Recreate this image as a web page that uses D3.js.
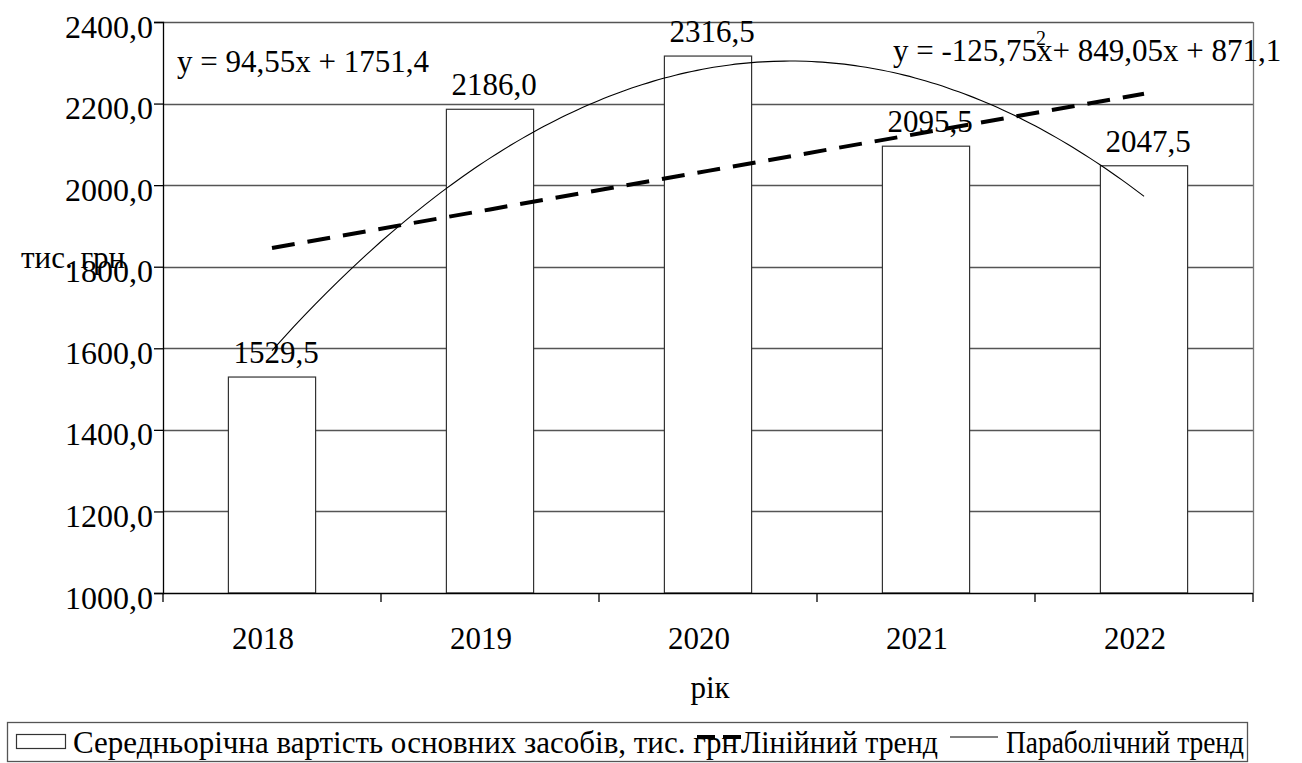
<!DOCTYPE html>
<html>
<head>
<meta charset="utf-8">
<script src="https://cdn.jsdelivr.net/npm/d3@7"></script>
<style>
  html, body { margin: 0; padding: 0; background: #fff; }
  svg { display: block; }
</style>
</head>
<body>
<svg id="chart" width="1302" height="763"></svg>
<script>
// Average annual value of fixed assets, thousand UAH
const years = ["2018", "2019", "2020", "2021", "2022"];
const values = [1529.5, 2186.0, 2316.5, 2095.5, 2047.5];
const yTicks = [1000, 1200, 1400, 1600, 1800, 2000, 2200, 2400];

// Trend equations (x = period number 1..5)
const linearCoef = [94.55, 1751.4];            // y = a*x + b
const parabolicCoef = [-125.75, 849.05, 871.1]; // y = a*x^2 + b*x + c
const linearLabel = "y = 94,55x + 1751,4";
const parabolicLabel = ["y = -125,75", "x+ 849,05x + 871,1"];

const yAxisTitle = "тис. грн";
const xAxisTitle = "рік";
const legendLabels = ["Середньорічна вартість основних засобів, тис. грн", "Лінійний тренд", "Параболічний тренд"];

const SERIF = "Liberation Serif, DejaVu Serif, serif";

const locale = d3.formatLocale({ decimal: ",", thousands: "", grouping: [3], currency: ["", ""] });
const fmt = locale.format(".1f");

const svg = d3.select("#chart").style("font-family", SERIF);
const plot = { left: 163, right: 1253, top: 22, bottom: 593 };

const x = d3.scaleBand().domain(years).range([plot.left, plot.right]).padding(0);
const y = d3.scaleLinear().domain([1000, 2400]).range([plot.bottom, plot.top]);
const barW = x.bandwidth() * 0.4;
const xc = i => x(years[i]) + x.bandwidth() / 2;

// Horizontal gridlines
svg.append("g").selectAll("line").data(yTicks.filter(t => t > 1000)).join("line")
  .attr("x1", plot.left).attr("x2", plot.right)
  .attr("y1", d => Math.round(y(d)) + 0.5).attr("y2", d => Math.round(y(d)) + 0.5)
  .attr("stroke", "#555").attr("stroke-width", 1.3);

// Right border of the plot area
svg.append("line")
  .attr("x1", plot.right + 0.5).attr("x2", plot.right + 0.5)
  .attr("y1", y(2400)).attr("y2", plot.bottom)
  .attr("stroke", "#777").attr("stroke-width", 1.3);

// Bars
svg.append("g").selectAll("rect").data(values).join("rect")
  .attr("x", (d, i) => xc(i) - barW / 2)
  .attr("y", d => y(d))
  .attr("width", barW)
  .attr("height", d => plot.bottom - y(d))
  .attr("fill", "#fff").attr("stroke", "#333").attr("stroke-width", 1.2);

// Y axis
const yAxis = d3.axisLeft(y).tickValues(yTicks).tickFormat(fmt).tickSize(9).tickPadding(2);
const gy = svg.append("g").attr("transform", `translate(${plot.left},0)`).call(yAxis)
  .attr("font-family", null).attr("font-size", null);
gy.select(".domain").attr("stroke", "#000").attr("stroke-width", 1.3);
gy.selectAll(".tick line").attr("stroke", "#000").attr("stroke-width", 1.3);
gy.selectAll(".tick text").style("font-family", SERIF).style("font-size", "32px")
  .attr("fill", "#000").attr("dy", "0.47em").attr("dx", "1");
// Extend axis line slightly below the baseline
svg.append("line").attr("x1", plot.left).attr("x2", plot.left)
  .attr("y1", plot.bottom).attr("y2", plot.bottom + 9)
  .attr("stroke", "#000").attr("stroke-width", 1.3);

// X axis with ticks at category boundaries
const gx = svg.append("g").attr("transform", `translate(0,${plot.bottom})`);
gx.append("line").attr("x1", plot.left).attr("x2", plot.right)
  .attr("y1", 0.5).attr("y2", 0.5).attr("stroke", "#000").attr("stroke-width", 1.3);
gx.selectAll("line.tk").data(years).join("line").attr("class", "tk")
  .attr("x1", d => x(d) + x.bandwidth()).attr("x2", d => x(d) + x.bandwidth())
  .attr("y1", 0).attr("y2", 9).attr("stroke", "#000").attr("stroke-width", 1.3);
gx.selectAll("text").data(years).join("text")
  .attr("x", d => x(d) + x.bandwidth() / 2 - 9)
  .attr("y", 56)
  .attr("text-anchor", "middle").style("font-size", "31px")
  .text(d => d);

// Value labels
svg.append("g").selectAll("text").data(values).join("text")
  .attr("x", (d, i) => xc(i) + 4)
  .attr("y", d => y(d) - 14)
  .attr("text-anchor", "middle").style("font-size", "31px")
  .text(d => fmt(d));

// Trend lines evaluated from the stated equations at each period
const periods = d3.range(1, years.length + 1);
const linY = t => linearCoef[0] * t + linearCoef[1];
const parY = t => parabolicCoef[0] * t * t + parabolicCoef[1] * t + parabolicCoef[2];
const tx = d3.scaleLinear().domain([1, years.length]).range([xc(0), xc(years.length - 1)]);

svg.append("path")
  .datum(periods)
  .attr("d", d3.line().x(t => tx(t)).y(t => y(linY(t))))
  .attr("fill", "none").attr("stroke", "#000").attr("stroke-width", 4)
  .attr("stroke-dasharray", "23,13");

const fine = d3.range(1, years.length + 0.001, 0.05);
svg.append("path")
  .datum(fine)
  .attr("d", d3.line().x(t => tx(t)).y(t => y(parY(t))).curve(d3.curveMonotoneX))
  .attr("fill", "none").attr("stroke", "#000").attr("stroke-width", 1.1);

// Trend equation labels
svg.append("text").attr("x", 177).attr("y", 72).style("font-size", "31px").text(linearLabel);
const eq2 = svg.append("text").attr("x", 893).attr("y", 61).style("font-size", "31px");
eq2.append("tspan").text(parabolicLabel[0]);
eq2.append("tspan").text(parabolicLabel[1]);
svg.append("text").attr("x", 1036).attr("y", 45).style("font-size", "20px").text("2");

// Axis titles
svg.append("text").attr("x", 21).attr("y", 268).style("font-size", "31px").text(yAxisTitle);
svg.append("text").attr("x", 710).attr("y", 698).attr("text-anchor", "middle").style("font-size", "31px").text(xAxisTitle);

// Legend
const lg = svg.append("g");
lg.append("rect").attr("x", 7.5).attr("y", 722.5).attr("width", 1240).attr("height", 39)
  .attr("fill", "#fff").attr("stroke", "#555").attr("stroke-width", 1.3);
lg.append("rect").attr("x", 16.5).attr("y", 734.5).attr("width", 49).attr("height", 14)
  .attr("fill", "#fff").attr("stroke", "#333").attr("stroke-width", 1.2);
lg.append("text").attr("x", 73).attr("y", 753).style("font-size", "31px")
  .attr("textLength", 665).attr("lengthAdjust", "spacingAndGlyphs").text(legendLabels[0]);
lg.append("line").attr("x1", 697).attr("x2", 747).attr("y1", 737).attr("y2", 737)
  .attr("stroke", "#000").attr("stroke-width", 4).attr("stroke-dasharray", "18,8");
lg.append("text").attr("x", 741).attr("y", 753).style("font-size", "31px")
  .attr("textLength", 197).attr("lengthAdjust", "spacingAndGlyphs").text(legendLabels[1]);
lg.append("line").attr("x1", 950).attr("x2", 998).attr("y1", 737).attr("y2", 737)
  .attr("stroke", "#000").attr("stroke-width", 1.1);
lg.append("text").attr("x", 1006).attr("y", 753).style("font-size", "31px")
  .attr("textLength", 238).attr("lengthAdjust", "spacingAndGlyphs").text(legendLabels[2]);
</script>
</body>
</html>
